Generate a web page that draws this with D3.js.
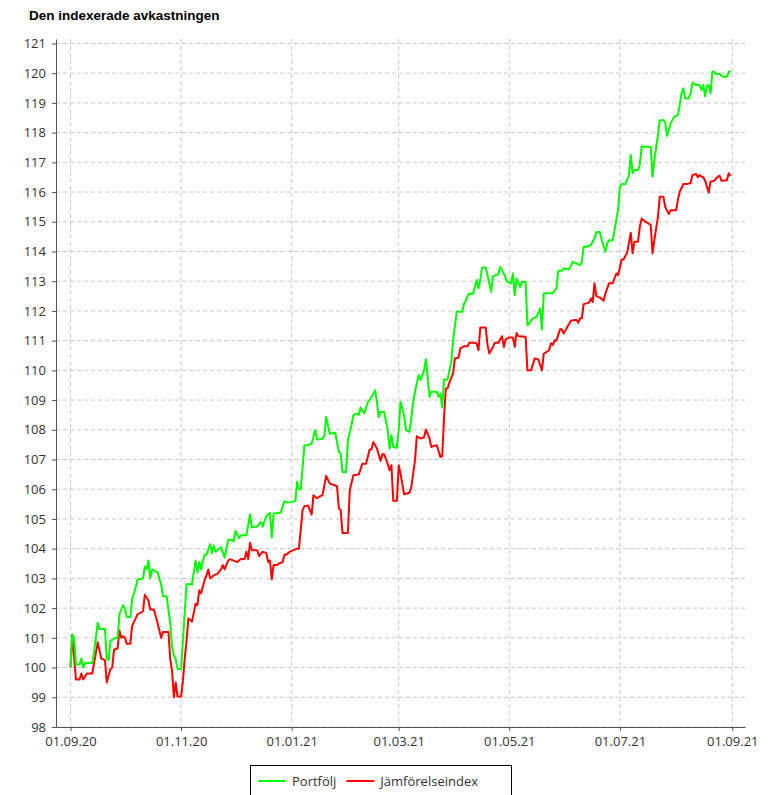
<!DOCTYPE html>
<html>
<head>
<meta charset="utf-8">
<script src="https://cdn.jsdelivr.net/npm/d3@7"></script>
<style>
  body { margin: 0; background: #fff; }
  svg { display: block; }
</style>
</head>
<body>
<div class="chart"></div>
<script>
// data
const portfolioDates = [
  '2020-09-01','2020-09-02','2020-09-03','2020-09-04','2020-09-06','2020-09-07','2020-09-08','2020-09-09','2020-09-13','2020-09-14',
  '2020-09-16','2020-09-17','2020-09-20','2020-09-21','2020-09-22','2020-09-23','2020-09-26','2020-09-27','2020-09-28','2020-09-30',
  '2020-10-01','2020-10-02','2020-10-04','2020-10-05','2020-10-07','2020-10-08','2020-10-11','2020-10-12','2020-10-13','2020-10-14',
  '2020-10-15','2020-10-16','2020-10-19','2020-10-21','2020-10-22','2020-10-24','2020-10-26','2020-10-27','2020-10-28','2020-10-29',
  '2020-10-30','2020-11-01','2020-11-02','2020-11-04','2020-11-07','2020-11-09','2020-11-10','2020-11-11','2020-11-12','2020-11-13',
  '2020-11-14','2020-11-15','2020-11-17','2020-11-18','2020-11-19','2020-11-20','2020-11-23','2020-11-25','2020-11-27','2020-11-29',
  '2020-11-30','2020-12-01','2020-12-03','2020-12-04','2020-12-07','2020-12-08','2020-12-09','2020-12-10','2020-12-13','2020-12-15',
  '2020-12-16','2020-12-18','2020-12-20','2020-12-21','2020-12-22','2020-12-26','2020-12-28','2020-12-30','2021-01-03','2021-01-04',
  '2021-01-05','2021-01-06','2021-01-08','2021-01-10','2021-01-12','2021-01-14','2021-01-15','2021-01-18','2021-01-19','2021-01-20',
  '2021-01-22','2021-01-25','2021-01-27','2021-01-28','2021-01-29','2021-01-31','2021-02-01','2021-02-03','2021-02-04','2021-02-06',
  '2021-02-07','2021-02-08','2021-02-10','2021-02-12','2021-02-13','2021-02-16','2021-02-17','2021-02-18','2021-02-19','2021-02-21',
  '2021-02-23','2021-02-24','2021-02-25','2021-02-26','2021-02-28','2021-03-01','2021-03-02','2021-03-04','2021-03-05','2021-03-07',
  '2021-03-09','2021-03-10','2021-03-12','2021-03-13','2021-03-15','2021-03-16','2021-03-18','2021-03-19','2021-03-22','2021-03-23',
  '2021-03-24','2021-03-25','2021-03-26','2021-03-28','2021-03-30','2021-03-31','2021-04-01','2021-04-02','2021-04-05','2021-04-06',
  '2021-04-07','2021-04-08','2021-04-09','2021-04-11','2021-04-13','2021-04-14','2021-04-15','2021-04-16','2021-04-18','2021-04-20',
  '2021-04-21','2021-04-22','2021-04-25','2021-04-26','2021-04-28','2021-04-30','2021-05-02','2021-05-03','2021-05-04','2021-05-05',
  '2021-05-07','2021-05-08','2021-05-10','2021-05-11','2021-05-12','2021-05-14','2021-05-16','2021-05-18','2021-05-19','2021-05-20',
  '2021-05-25','2021-05-27','2021-05-28','2021-05-30','2021-05-31','2021-06-03','2021-06-05','2021-06-07','2021-06-09','2021-06-10',
  '2021-06-11','2021-06-13','2021-06-15','2021-06-17','2021-06-18','2021-06-20','2021-06-21','2021-06-23','2021-06-24','2021-06-25',
  '2021-06-27','2021-06-29','2021-06-30','2021-07-01','2021-07-02','2021-07-04','2021-07-06','2021-07-07','2021-07-08','2021-07-09',
  '2021-07-11','2021-07-12','2021-07-13','2021-07-18','2021-07-19','2021-07-20','2021-07-22','2021-07-23','2021-07-25','2021-07-26',
  '2021-07-27','2021-07-29','2021-07-31','2021-08-02','2021-08-03','2021-08-04','2021-08-05','2021-08-06','2021-08-08','2021-08-09',
  '2021-08-10','2021-08-12','2021-08-14','2021-08-15','2021-08-16','2021-08-17','2021-08-18','2021-08-19','2021-08-20','2021-08-21',
  '2021-08-22','2021-08-23','2021-08-25','2021-08-27','2021-08-29','2021-08-30','2021-08-31'
];
const portfolioValues = [
  100.0,101.1,101.0,100.1,100.1,100.3,100.0,100.15,100.15,100.5,
  101.5,101.3,101.3,100.3,100.25,100.9,101.0,101.0,101.8,102.1,
  102.0,101.7,101.7,102.3,102.7,102.96,103.0,103.4,103.3,103.6,
  103.0,103.3,103.2,102.8,102.4,102.4,101.5,100.7,100.4,100.3,
  99.95,99.95,100.9,102.8,102.8,103.6,103.2,103.55,103.3,103.6,
  103.8,103.8,104.15,103.85,104.1,103.9,104.05,103.7,104.3,104.3,
  104.25,104.6,104.35,104.45,104.45,104.8,105.15,104.72,104.75,104.9,
  104.75,105.1,105.2,104.38,105.18,105.22,105.6,105.55,105.6,106.25,
  106.0,106.0,107.48,107.48,107.54,107.99,107.67,107.7,107.8,108.43,
  107.87,107.9,107.26,107.2,106.58,106.58,107.65,108.16,108.49,108.55,
  108.5,108.75,108.55,108.94,109.0,109.33,108.94,108.43,108.6,108.6,
  107.99,107.37,107.82,107.42,107.4,107.99,108.94,108.49,107.99,107.93,
  108.94,109.28,109.84,109.67,110.0,110.37,109.11,109.28,109.28,109.11,
  109.22,108.75,109.69,109.69,110.3,111.0,111.5,111.97,111.97,112.23,
  112.34,112.5,112.59,112.58,113.04,112.76,113.04,113.46,113.46,112.93,
  112.64,113.17,113.24,113.48,113.26,112.98,112.93,113.26,112.53,113.09,
  112.81,112.98,112.98,111.52,111.58,111.75,111.8,112.08,111.38,112.59,
  112.6,112.76,113.35,113.35,113.43,113.4,113.65,113.6,113.54,113.65,
  114.16,114.16,114.22,114.44,114.66,114.66,114.38,113.99,114.27,114.38,
  114.38,115.06,115.39,116.18,116.27,116.27,116.57,117.25,116.63,116.74,
  116.74,116.92,117.53,117.52,116.52,117.08,117.92,118.42,118.42,118.35,
  117.89,118.31,118.54,118.59,118.93,119.32,119.49,119.15,119.15,119.32,
  119.68,119.6,119.6,119.43,119.6,119.23,119.57,119.6,119.32,120.05,
  120.05,119.97,119.97,119.88,119.88,120.02,120.08
];
const indexDates = [
  '2020-09-01','2020-09-02','2020-09-04','2020-09-06','2020-09-07','2020-09-08','2020-09-09','2020-09-10','2020-09-13','2020-09-16',
  '2020-09-18','2020-09-20','2020-09-21','2020-09-23','2020-09-24','2020-09-25','2020-09-27','2020-09-28','2020-09-29','2020-09-30',
  '2020-10-01','2020-10-02','2020-10-04','2020-10-05','2020-10-08','2020-10-10','2020-10-11','2020-10-12','2020-10-14','2020-10-15',
  '2020-10-17','2020-10-19','2020-10-21','2020-10-22','2020-10-25','2020-10-26','2020-10-27','2020-10-28','2020-10-29','2020-10-30',
  '2020-11-01','2020-11-02','2020-11-03','2020-11-04','2020-11-05','2020-11-07','2020-11-09','2020-11-10','2020-11-11','2020-11-12',
  '2020-11-14','2020-11-15','2020-11-16','2020-11-17','2020-11-19','2020-11-21','2020-11-23','2020-11-24','2020-11-25','2020-11-27',
  '2020-11-28','2020-11-30','2020-12-02','2020-12-04','2020-12-06','2020-12-07','2020-12-08','2020-12-09','2020-12-10','2020-12-13',
  '2020-12-14','2020-12-16','2020-12-18','2020-12-19','2020-12-20','2020-12-21','2020-12-22','2020-12-24','2020-12-25','2020-12-27',
  '2020-12-28','2020-12-29','2020-12-31','2021-01-02','2021-01-04','2021-01-05','2021-01-07','2021-01-08','2021-01-10','2021-01-11',
  '2021-01-12','2021-01-13','2021-01-15','2021-01-16','2021-01-18','2021-01-20','2021-01-22','2021-01-24','2021-01-26','2021-01-27',
  '2021-01-28','2021-01-29','2021-02-01','2021-02-02','2021-02-04','2021-02-07','2021-02-09','2021-02-11','2021-02-13','2021-02-14',
  '2021-02-15','2021-02-17','2021-02-19','2021-02-20','2021-02-21','2021-02-23','2021-02-24','2021-02-25','2021-02-26','2021-02-28',
  '2021-03-01','2021-03-02','2021-03-04','2021-03-07','2021-03-08','2021-03-10','2021-03-11','2021-03-13','2021-03-15','2021-03-16',
  '2021-03-18','2021-03-19','2021-03-20','2021-03-22','2021-03-23','2021-03-24','2021-03-25','2021-03-26','2021-03-27','2021-03-28',
  '2021-03-29','2021-03-31','2021-04-01','2021-04-03','2021-04-04','2021-04-06','2021-04-08','2021-04-09','2021-04-12','2021-04-13',
  '2021-04-14','2021-04-15','2021-04-18','2021-04-19','2021-04-20','2021-04-22','2021-04-23','2021-04-25','2021-04-27','2021-04-28',
  '2021-04-29','2021-05-01','2021-05-03','2021-05-04','2021-05-05','2021-05-06','2021-05-10','2021-05-11','2021-05-13','2021-05-15',
  '2021-05-17','2021-05-18','2021-05-19','2021-05-20','2021-05-23','2021-05-24','2021-05-25','2021-05-26','2021-05-27','2021-05-29',
  '2021-05-30','2021-05-31','2021-06-02','2021-06-04','2021-06-07','2021-06-08','2021-06-09','2021-06-10','2021-06-11','2021-06-14',
  '2021-06-15','2021-06-16','2021-06-17','2021-06-18','2021-06-20','2021-06-22','2021-06-23','2021-06-25','2021-06-27','2021-06-29',
  '2021-06-30','2021-07-02','2021-07-03','2021-07-05','2021-07-07','2021-07-08','2021-07-09','2021-07-11','2021-07-12','2021-07-13',
  '2021-07-15','2021-07-16','2021-07-18','2021-07-19','2021-07-20','2021-07-22','2021-07-23','2021-07-25','2021-07-26','2021-07-28',
  '2021-07-29','2021-08-01','2021-08-02','2021-08-03','2021-08-05','2021-08-07','2021-08-09','2021-08-10','2021-08-12','2021-08-13',
  '2021-08-14','2021-08-15','2021-08-16','2021-08-17','2021-08-19','2021-08-20','2021-08-22','2021-08-24','2021-08-25','2021-08-26',
  '2021-08-29','2021-08-30','2021-08-31'
];
const indexValues = [
  100.0,101.1,99.6,99.6,99.8,99.6,99.7,99.8,99.8,100.85,
  100.3,100.25,99.5,99.95,100.0,100.6,100.65,101.25,101.0,101.05,
  101.0,100.8,100.8,101.4,101.8,101.85,101.9,102.45,102.25,101.95,
  101.95,101.5,101.0,101.2,101.2,100.3,99.9,99.0,99.5,99.03,
  99.03,99.55,100.3,100.9,101.65,101.55,102.15,102.1,102.6,102.5,
  102.95,103.1,103.3,103.0,103.1,103.15,103.3,103.45,103.3,103.6,
  103.65,103.6,103.55,103.65,103.65,103.9,103.65,104.2,103.95,103.95,
  103.75,103.9,103.85,103.55,103.6,102.97,103.45,103.45,103.5,103.55,
  103.8,103.8,103.9,103.95,104.0,104.0,105.3,105.43,105.45,105.3,
  105.15,105.8,105.7,105.74,105.8,106.45,106.19,106.15,106.1,105.35,
  105.3,104.53,104.53,105.97,106.47,106.5,106.86,106.86,107.34,107.34,
  107.59,107.37,106.95,107.18,107.18,106.84,106.64,106.81,105.61,105.61,
  106.81,106.53,105.83,105.88,106.08,106.98,107.78,107.71,107.75,108.01,
  107.71,107.42,107.45,107.48,107.29,107.09,107.1,108.4,109.39,109.4,
  109.6,109.9,110.4,110.43,110.74,110.81,110.81,110.93,110.93,110.9,
  110.68,111.44,111.44,110.85,110.57,110.79,110.93,110.93,111.15,110.79,
  111.04,111.11,111.11,110.79,111.26,111.15,111.13,110.0,110.0,110.4,
  110.37,110.18,110.0,110.56,110.68,110.91,110.85,111.01,111.0,111.38,
  111.38,111.24,111.46,111.67,111.7,111.6,111.75,111.75,112.23,112.28,
  112.42,112.3,112.93,112.5,112.45,112.34,112.59,112.93,112.93,113.26,
  113.2,113.73,113.73,113.96,114.63,113.94,114.33,114.33,114.83,115.11,
  115.0,114.98,114.89,113.94,114.38,115.17,115.84,115.84,115.5,115.26,
  115.39,115.39,115.73,116.01,116.27,116.27,116.3,116.57,116.61,116.5,
  116.57,116.52,116.5,116.38,115.98,116.35,116.38,116.52,116.55,116.38,
  116.4,116.63,116.54
];
const seriesNames = ['Portfölj', 'Jämförelseindex'];
const seriesColors = ['#00ff00', '#ff0000'];
const yTickValues = [98,99,100,101,102,103,104,105,106,107,108,109,110,111,112,113,114,115,116,117,118,119,120,121];

const width = 774, height = 795;
const plotLeft = 56, plotRight = 745, plotTop = 39, plotBottom = 727;

const parse = d3.timeParse('%Y-%m-%d');
const series = [
  portfolioDates.map((d, i) => ({date: parse(d), value: portfolioValues[i]})),
  indexDates.map((d, i) => ({date: parse(d), value: indexValues[i]}))
];

const x = d3.scaleTime()
  .domain([new Date(2020, 7, 24), new Date(2021, 8, 8)])
  .range([plotLeft, plotRight]);
const y = d3.scaleLinear()
  .domain([98, 121.15])
  .range([plotBottom, plotTop]);

const svg = d3.select('.chart')
  .append('svg')
  .attr('width', width)
  .attr('height', height);

svg.append('text')
  .attr('x', 29)
  .attr('y', 20)
  .style('font-family', 'Liberation Sans, Arial, sans-serif')
  .style('font-weight', 'bold')
  .style('font-size', '13.5px')
  .text('Den indexerade avkastningen');

const xTicks = x.ticks(d3.timeMonth.every(2));

// grid
svg.append('g')
  .selectAll('line')
  .data(yTickValues)
  .enter()
  .append('line')
  .attr('x1', plotLeft).attr('x2', plotRight)
  .attr('y1', d => y(d)).attr('y2', d => y(d))
  .attr('stroke', '#c8c8c8')
  .attr('stroke-dasharray', '4,3');

svg.append('g')
  .selectAll('line')
  .data(xTicks)
  .enter()
  .append('line')
  .attr('x1', d => x(d)).attr('x2', d => x(d))
  .attr('y1', plotTop).attr('y2', plotBottom)
  .attr('stroke', '#c8c8c8')
  .attr('stroke-dasharray', '4,3');

// axes
const yAxis = svg.append('g')
  .attr('transform', 'translate(' + plotLeft + ',0)')
  .call(d3.axisLeft(y).tickValues(yTickValues).tickSize(4).tickPadding(6).tickSizeOuter(0));

const xAxis = svg.append('g')
  .attr('transform', 'translate(0,' + plotBottom + ')')
  .call(d3.axisBottom(x).tickValues(xTicks).tickFormat(d3.timeFormat('%d.%m.%y')).tickSize(4).tickPadding(6).tickSizeOuter(0));

[yAxis, xAxis].forEach(function(a) {
  a.select('.domain').attr('stroke', '#555');
  a.selectAll('.tick line').attr('stroke', '#555');
  a.selectAll('text')
    .attr('fill', '#333')
    .style('font-family', 'Open Sans, sans-serif')
    .style('font-size', '13px');
});

// lines, first series drawn last so it sits on top
const line = d3.line()
  .x(d => x(d.date))
  .y(d => y(d.value));

svg.append('g')
  .selectAll('path')
  .data(series.map((s, i) => ({points: s, i: i})).reverse())
  .enter()
  .append('path')
  .attr('d', d => line(d.points))
  .attr('fill', 'none')
  .attr('stroke', d => seriesColors[d.i])
  .attr('stroke-width', 2)
  .attr('stroke-linejoin', 'round');

// legend
const legend = svg.append('g')
  .attr('transform', 'translate(250,765)');

legend.append('rect')
  .attr('x', 0.5).attr('y', 0.5)
  .attr('width', 261).attr('height', 40)
  .attr('fill', '#fff')
  .attr('stroke', '#000');

let lx = 8;
seriesNames.forEach(function(name, i) {
  legend.append('line')
    .attr('x1', lx).attr('x2', lx + 28)
    .attr('y1', 16).attr('y2', 16)
    .attr('stroke', seriesColors[i])
    .attr('stroke-width', 2);
  const t = legend.append('text')
    .attr('x', lx + 34)
    .attr('y', 21)
    .style('font-family', 'Open Sans, sans-serif')
    .style('font-size', '13px')
    .attr('fill', '#333')
    .text(name);
  lx += 34 + t.node().getComputedTextLength() + 10;
});
</script>
</body>
</html>
